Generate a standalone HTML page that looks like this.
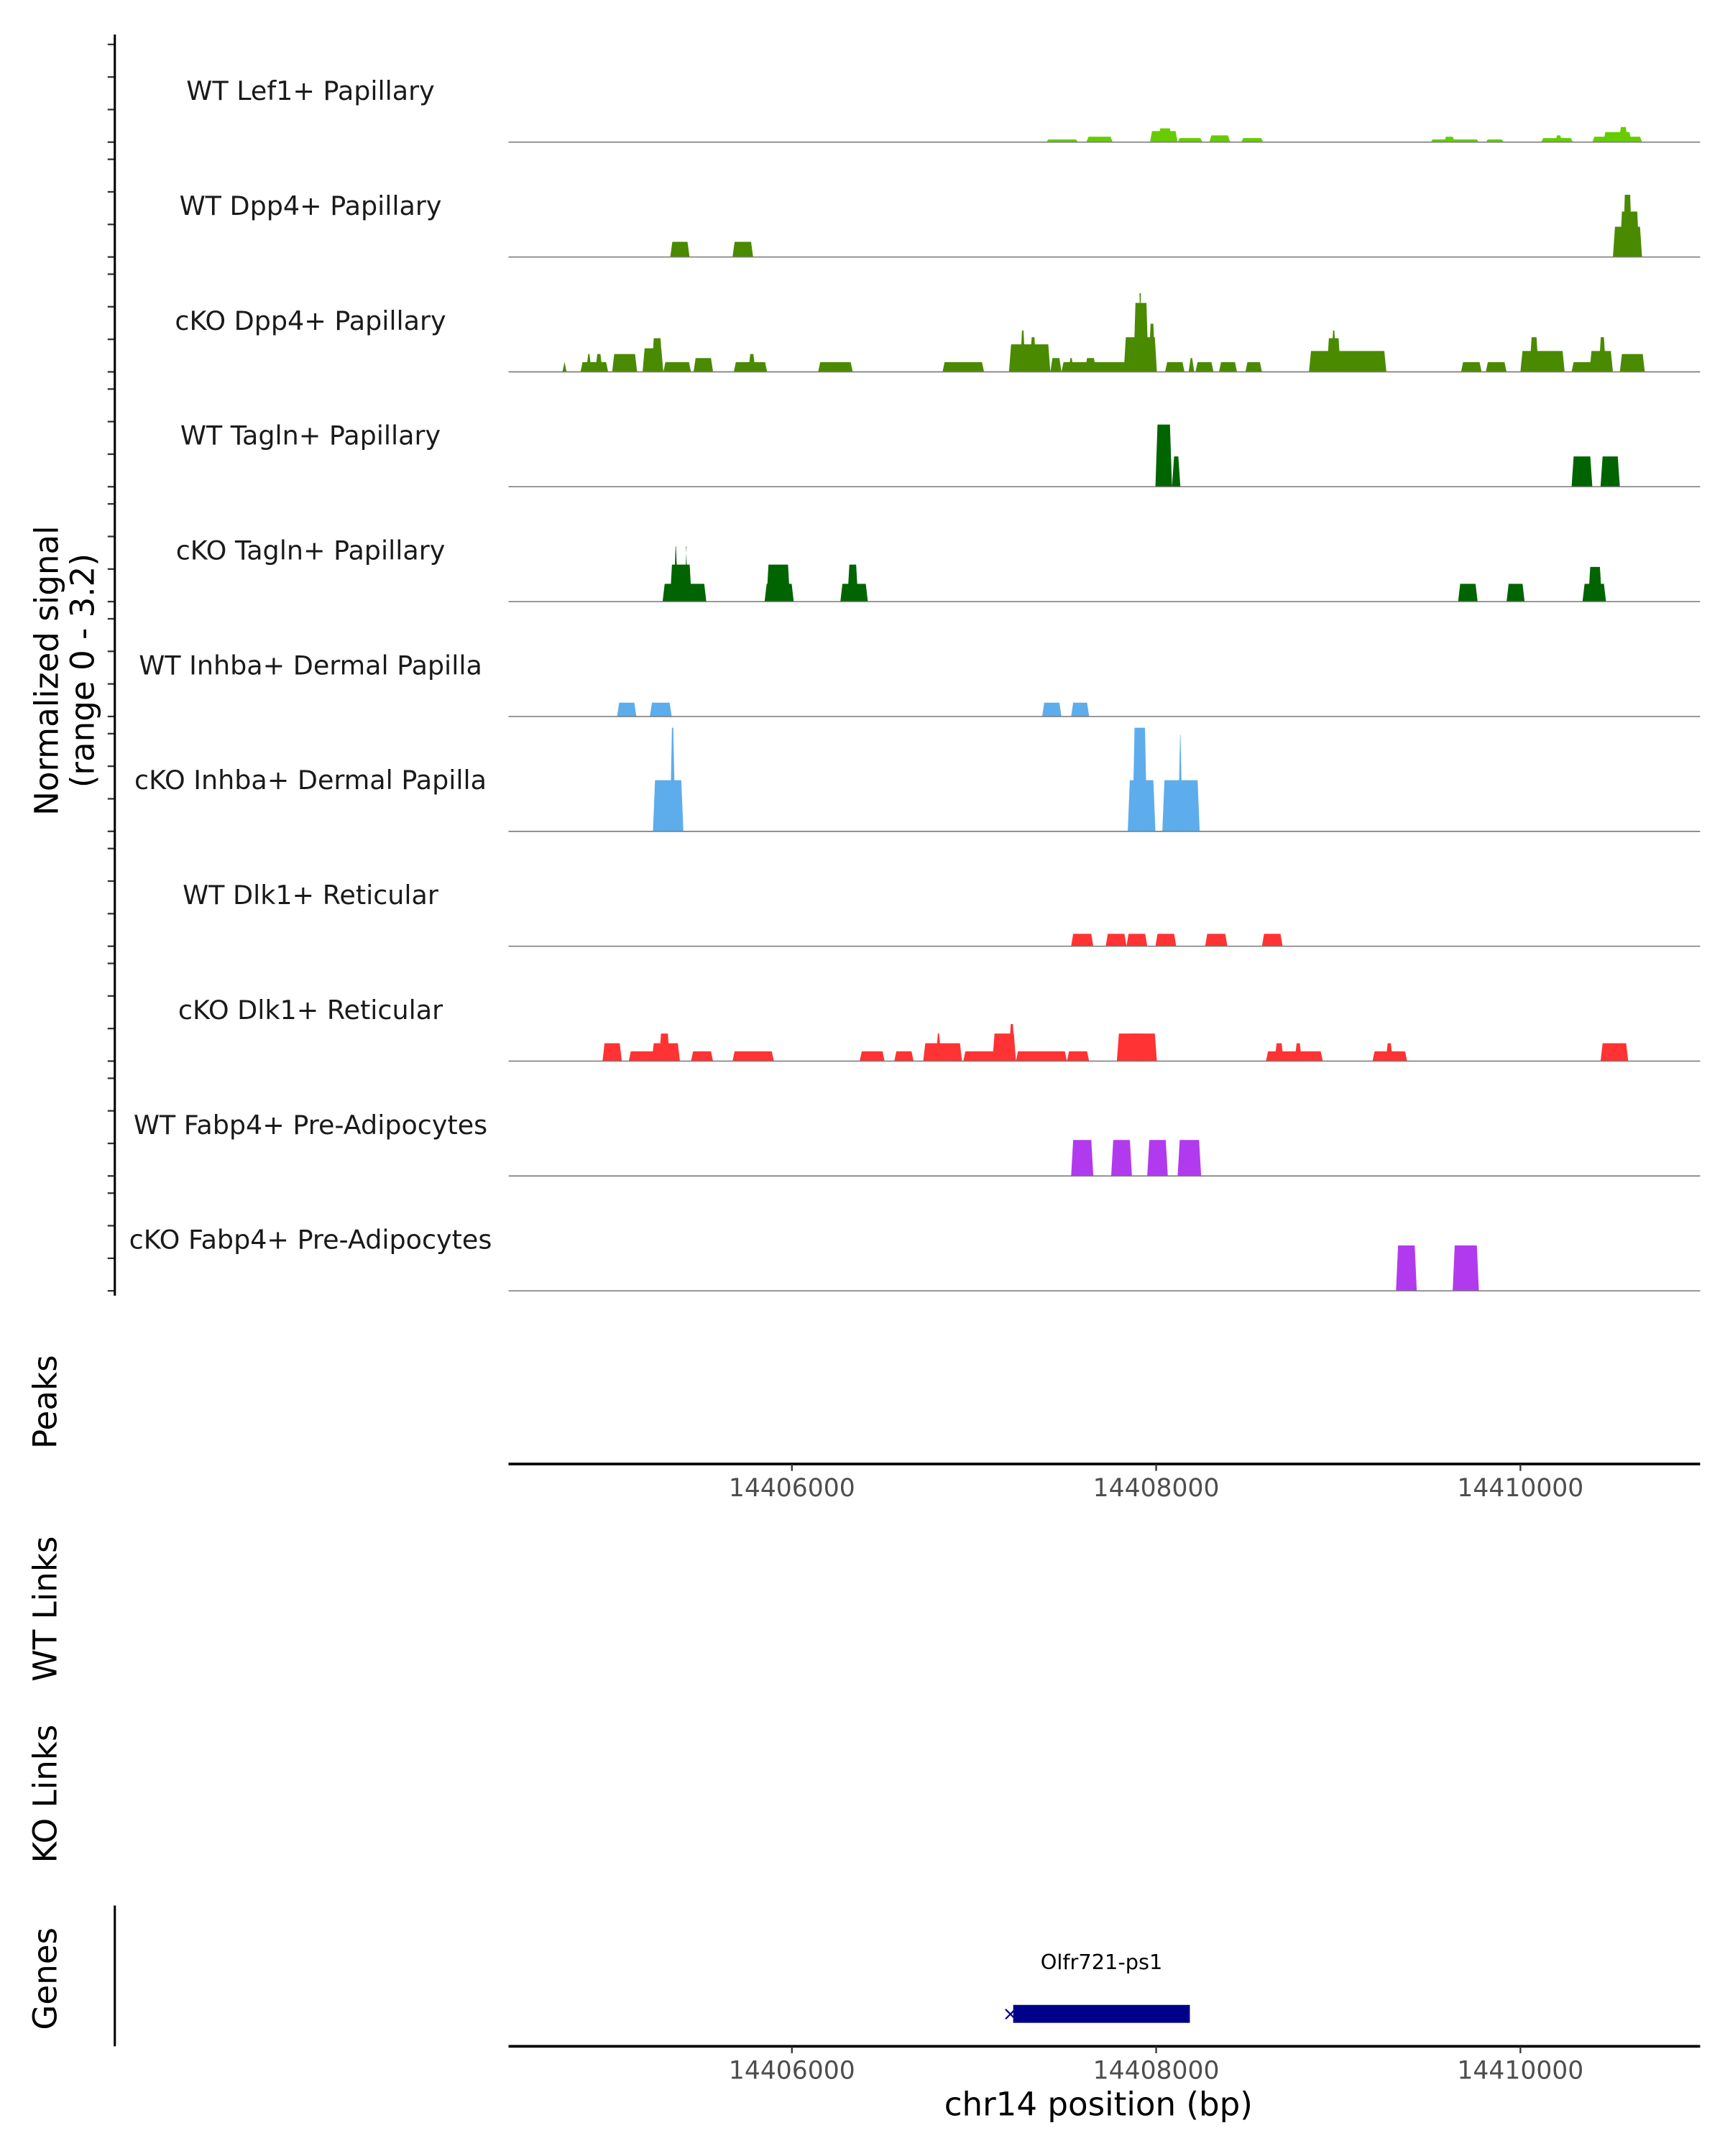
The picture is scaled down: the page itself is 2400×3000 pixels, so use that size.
<!DOCTYPE html>
<html><head><meta charset="utf-8"><style>
html,body{margin:0;padding:0;background:#fff;}
svg{display:block;font-family:"DejaVu Sans","Liberation Sans",sans-serif;}
</style></head><body>
<svg id="chart" width="2400" height="3000" viewBox="0 0 1250 1562.5" xmlns="http://www.w3.org/2000/svg">
<g id="tracks"></g>
<g id="axes"></g>
</svg>
<script>
const trackNames = ["WT Lef1+ Papillary","WT Dpp4+ Papillary","cKO Dpp4+ Papillary","WT Tagln+ Papillary","cKO Tagln+ Papillary","WT Inhba+ Dermal Papilla","cKO Inhba+ Dermal Papilla","WT Dlk1+ Reticular","cKO Dlk1+ Reticular","WT Fabp4+ Pre-Adipocytes","cKO Fabp4+ Pre-Adipocytes"];
const trackColors = ["#66CC00","#4A8A00","#4A8A00","#006400","#006400","#5DADEC","#5DADEC","#FF3333","#FF3333","#B23AEE","#B23AEE"];
const xTicks = [14406000,14408000,14410000];
const geneName = "Olfr721-ps1";
const geneStart = 14407215, geneEnd = 14408185;
const lef1WT = [[14407397,14407571,0.08],[14407617,14407761,0.16],[14407966,14408118,0.33],[14408011,14408087,0.41],[14408118,14408254,0.12],[14408292,14408406,0.2],[14408467,14408588,0.12],[14409507,14409772,0.08],[14409580,14409640,0.16],[14409810,14409909,0.08],[14410114,14410288,0.12],[14410190,14410230,0.2],[14410395,14410668,0.16],[14410455,14410610,0.3],[14410540,14410590,0.45]];
const dpp4WT = [[14405332,14405438,0.45],[14405674,14405787,0.45],[14410508,14410668,0.9],[14410546,14410653,1.35],[14410562,14410614,1.85]];
const dpp4KO = [[14404740,14404763,0.29],[14404839,14404991,0.29],[14404870,14404900,0.53],[14404920,14404960,0.53],[14405013,14405150,0.53],[14405180,14405294,0.7],[14405230,14405290,1.0],[14405294,14405446,0.29],[14405460,14405567,0.41],[14405681,14405864,0.29],[14405760,14405800,0.53],[14406144,14406334,0.29],[14406827,14407055,0.29],[14407192,14407419,0.82],[14407252,14407283,1.23],[14407305,14407343,1.03],[14407419,14407480,0.41],[14407480,14407951,0.29],[14407518,14407548,0.41],[14407609,14407670,0.41],[14407822,14408004,1.03],[14407875,14407958,2.05],[14407905,14407920,2.34],[14407958,14407996,1.43],[14408049,14408156,0.29],[14408178,14408209,0.41],[14408216,14408315,0.29],[14408345,14408444,0.29],[14408490,14408581,0.29],[14408839,14409264,0.62],[14408937,14409013,1.0],[14408960,14408990,1.23],[14409674,14409787,0.29],[14409810,14409924,0.29],[14410000,14410243,0.62],[14410050,14410100,1.03],[14410281,14410417,0.29],[14410379,14410508,0.62],[14410430,14410470,1.03],[14410546,14410683,0.53]];
const taglnWT = [[14407996,14408087,1.85],[14408087,14408133,0.9],[14410281,14410395,0.9],[14410440,14410546,0.9]];
const taglnKO = [[14405290,14405530,0.53],[14405330,14405450,1.1],[14405350,14405375,1.64],[14405410,14405430,1.64],[14405850,14406010,0.53],[14405860,14405990,1.1],[14406266,14406417,0.53],[14406304,14406364,1.1],[14409658,14409765,0.53],[14409924,14410023,0.53],[14410341,14410470,0.53],[14410372,14410448,1.03]];
const inhbaWT = [[14405040,14405146,0.41],[14405220,14405340,0.41],[14407374,14407480,0.41],[14407533,14407632,0.41]];
const inhbaKO = [[14405237,14405404,1.52],[14405330,14405360,3.08],[14407844,14407996,1.52],[14407870,14407950,3.08],[14408034,14408239,1.52],[14408120,14408145,2.87]];
const dlk1WT = [[14407533,14407655,0.37],[14407723,14407837,0.37],[14407837,14407951,0.37],[14407996,14408110,0.37],[14408269,14408391,0.37],[14408581,14408694,0.37]];
const dlk1KO = [[14404960,14405066,0.53],[14405104,14405256,0.29],[14405230,14405385,0.53],[14405270,14405330,0.82],[14405446,14405567,0.29],[14405674,14405901,0.29],[14406372,14406509,0.29],[14406562,14406668,0.29],[14406721,14406934,0.53],[14406790,14406820,0.82],[14406941,14407230,0.29],[14407101,14407230,0.82],[14407190,14407225,1.1],[14407230,14407510,0.29],[14407510,14407632,0.29],[14407784,14408004,0.82],[14407844,14407935,0.82],[14408603,14408915,0.29],[14408650,14408700,0.53],[14408760,14408800,0.53],[14409188,14409378,0.29],[14409260,14409300,0.53],[14410440,14410592,0.53]];
const fabp4WT = [[14407533,14407655,1.07],[14407753,14407867,1.07],[14407951,14408064,1.07],[14408118,14408247,1.07]];
const fabp4KO = [[14409317,14409431,1.35],[14409628,14409772,1.35]];
const trackData = [lef1WT,dpp4WT,dpp4KO,taglnWT,taglnKO,inhbaWT,inhbaKO,dlk1WT,dlk1KO,fabp4WT,fabp4KO];

const NS="http://www.w3.org/2000/svg";
const X0=368.5, X1=1232, BP0=14404444, BP1=14410987;
function xs(bp){return X0+(bp-BP0)/(BP1-BP0)*(X1-X0);}
const YMAX=3.2, TH=78, firstBase=103, step=83.25;
function ys(v,base){return base - v/YMAX*TH;}
function el(tag,attrs,parent){const e=document.createElementNS(NS,tag);for(const k in attrs)e.setAttribute(k,attrs[k]);parent.appendChild(e);return e;}
const tg=document.getElementById('tracks'), ax=document.getElementById('axes');

trackNames.forEach((name,i)=>{
  const base=firstBase+i*step;
  const g=el('g',{},tg);
  
  
  trackData[i].forEach(b=>{
    const x1=xs(b[0]),x2=xs(b[1]),yt=ys(b[2],base),s=1.5;
    const p=el('polygon',{points:`${x1},${base} ${x1+s},${yt} ${x2-s},${yt} ${x2},${base}`,fill:trackColors[i]},g);
    
    
  });
  const l=el('line',{x1:X0,x2:X1,y1:base,y2:base,stroke:'#777','stroke-width':0.8},g);
  
  
  const t=el('text',{x:225,y:base-30.5,'text-anchor':'middle','font-size':19,fill:'#1a1a1a'},g);
  t.textContent=name;
  
  
  for(let k=0;k<4;k++){
    const yy=base-k*23.6;
    const tk=el('line',{x1:78,x2:83,y1:yy,y2:yy,stroke:'#333','stroke-width':1.2},ax);
    
    
  }
});
const ya=el('line',{x1:83.2,x2:83.2,y1:25,y2:939,stroke:'#000','stroke-width':1.6},ax);



function rotText(txt,x,y,name,size){
  const t=el('text',{x:x,y:y,'text-anchor':'middle','font-size':size||23.5,transform:`rotate(-90 ${x} ${y})`,fill:'#000'},ax);
  t.textContent=txt;
  
  
}
rotText('Normalized signal',42,486,'y-axis-title');
rotText('(range 0 - 3.2)',68,486,'y-axis-subtitle');
rotText('Peaks',41,1016,'peaks-title');
rotText('WT Links',41,1166,'wt-links-title');
rotText('KO Links',41,1300,'ko-links-title');
rotText('Genes',41,1434,'genes-title');

function xAxis(y,name){
  const l=el('line',{x1:X0,x2:X1,y1:y,y2:y,stroke:'#000','stroke-width':2},ax);
  
  
  xTicks.forEach(v=>{
    const x=xs(v);
    const tk=el('line',{x1:x,x2:x,y1:y,y2:y+5,stroke:'#333','stroke-width':1.2},ax);
    
    
    const t=el('text',{x:x,y:y+23.5,'text-anchor':'middle','font-size':18,fill:'#4d4d4d'},ax);
    t.textContent=v;
    
    
  });
}
xAxis(1061,'peaks-x-axis');
xAxis(1483,'genes-x-axis');

const ga=el('line',{x1:83.2,x2:83.2,y1:1381,y2:1483,stroke:'#000','stroke-width':1.6},ax);


const gx1=xs(geneStart),gx2=xs(geneEnd);
const gr=el('rect',{x:gx1,y:1453,width:gx2-gx1,height:13,fill:'#00008B'},ax);


const ar=el('text',{x:gx1-2,y:1464,'text-anchor':'middle','font-size':14,fill:'#00008B'},ax);
ar.textContent='×';


const gl=el('text',{x:(gx1+gx2)/2,y:1427,'text-anchor':'middle','font-size':15,fill:'#000'},ax);
gl.textContent=geneName;


const xt=el('text',{x:796,y:1533,'text-anchor':'middle','font-size':23.5,fill:'#000'},ax);
xt.textContent='chr14 position (bp)';


</script>
</body></html>
